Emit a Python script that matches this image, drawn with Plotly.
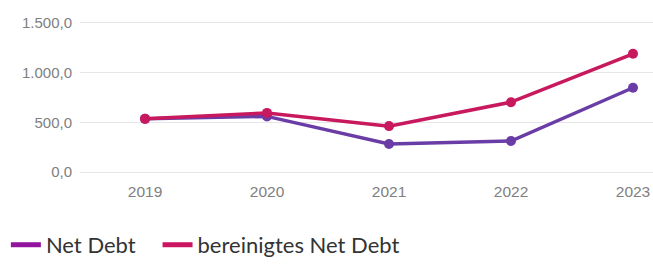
import plotly.graph_objects as go

years = [2019, 2020, 2021, 2022, 2023]
net_debt = [535, 560, 283, 312, 848]
adj_net_debt = [535, 595, 462, 703, 1190]
y_ticks = [0, 500, 1000, 1500]
y_tick_labels = ["0,0", "500,0", "1.000,0", "1.500,0"]

line_purple = "#6A3CA6"
line_red = "#C8195E"
legend_purple = "#93149E"
legend_red = "#CC1560"

fig = go.Figure()
fig.add_trace(go.Scatter(x=years, y=net_debt, mode="lines+markers",
                         line=dict(color=line_purple, width=3.5),
                         marker=dict(size=10, color=line_purple),
                         showlegend=False))
fig.add_trace(go.Scatter(x=years, y=adj_net_debt, mode="lines+markers",
                         line=dict(color=line_red, width=3.5),
                         marker=dict(size=10, color=line_red),
                         showlegend=False))
fig.add_trace(go.Scatter(x=[None], y=[None], mode="lines", name="Net Debt\u00a0\u00a0\u00a0",
                         line=dict(color=legend_purple, width=5)))
fig.add_trace(go.Scatter(x=[None], y=[None], mode="lines", name="bereinigtes Net Debt",
                         line=dict(color=legend_red, width=5)))

fig.update_layout(
    width=653, height=265,
    margin=dict(l=80, r=0, t=13, b=85, autoexpand=False),
    plot_bgcolor="white", paper_bgcolor="white",
    xaxis=dict(range=[2018.467, 2023.164], tickvals=years, ticktext=[str(y) for y in years],
               showgrid=False, zeroline=False, showline=False, automargin=False,
               tickfont=dict(family="Liberation Sans, Arial", size=15.5, color="#808080")),
    yaxis=dict(range=[-80, 1600], tickvals=y_ticks, ticktext=y_tick_labels,
               showgrid=True, gridcolor="#e6e6e6", gridwidth=1, zeroline=False, showline=False,
               ticks="", ticklen=0, automargin=False, ticklabelstandoff=7,
               tickfont=dict(family="Liberation Sans, Arial", size=15, color="#808080")),
    legend=dict(orientation="h", xref="container", x=0.009, xanchor="left",
                yref="container", y=0.155, yanchor="top",
                font=dict(family="Lato, Noto Sans", size=22, color="#333333"),
                itemwidth=30, tracegroupgap=0),
    showlegend=True,
)
fig.write_html("out.html", config={"displayModeBar": False},
               post_script="document.body.style.margin='0px';")
